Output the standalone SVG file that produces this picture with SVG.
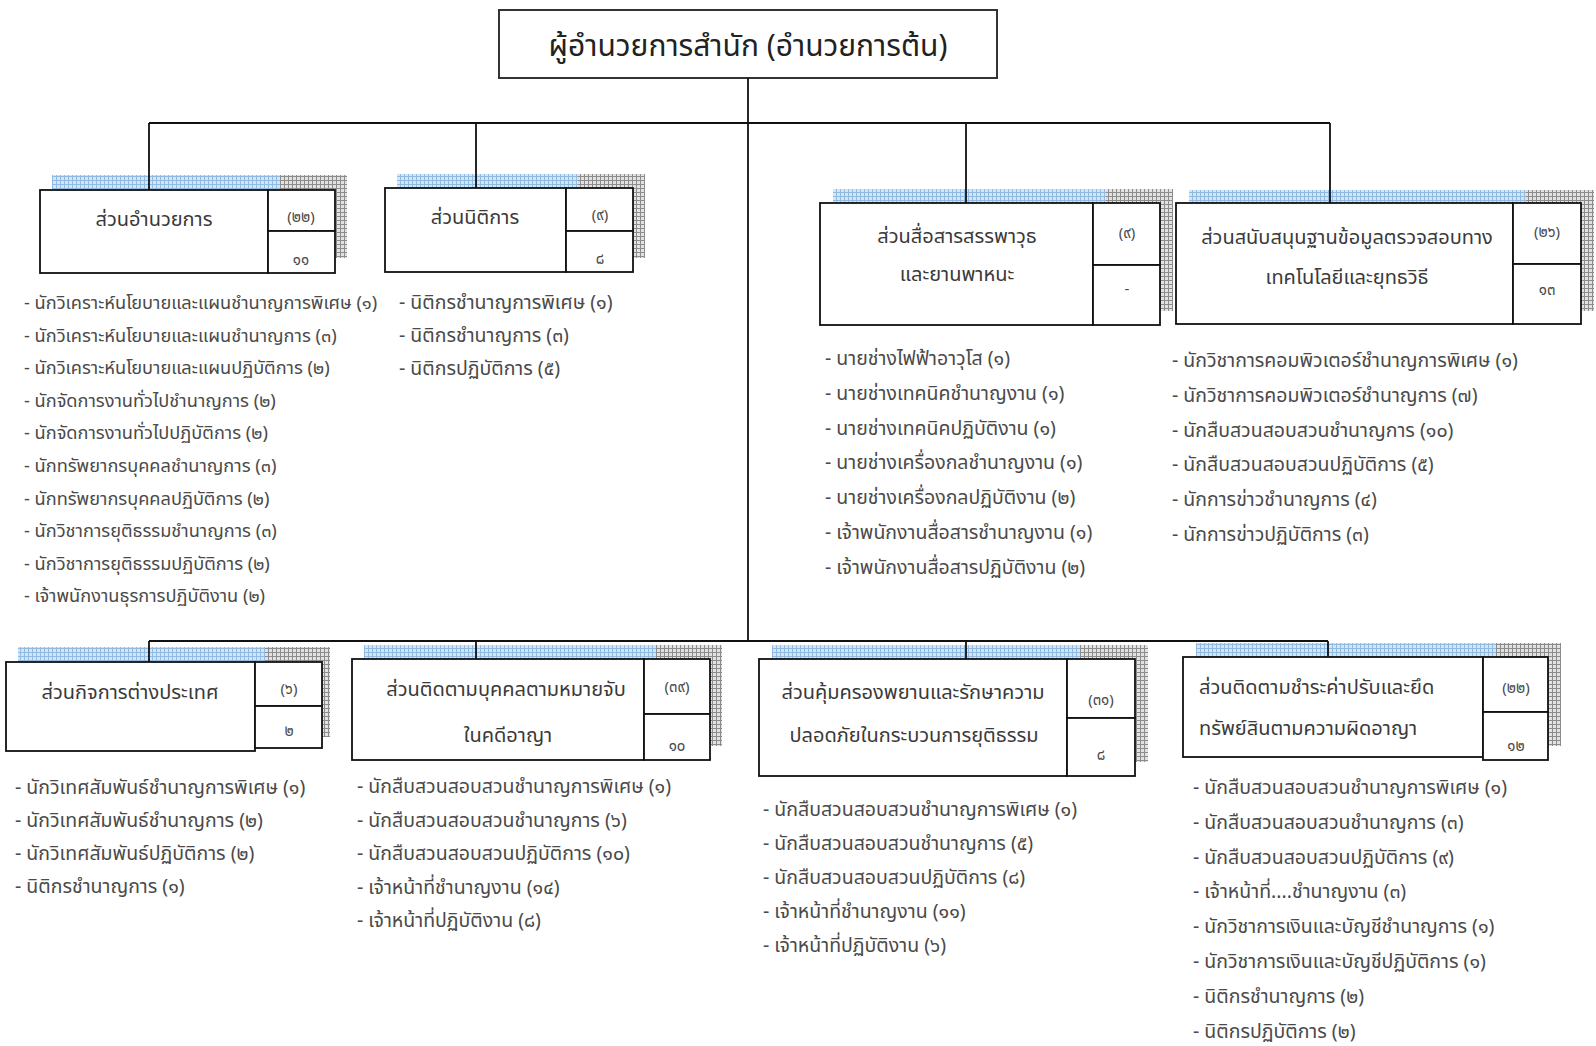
<svg xmlns="http://www.w3.org/2000/svg" width="1596" height="1046" viewBox="0 0 1596 1046">
<style>
.bx{fill:#fff;stroke:#111;stroke-width:1.8}
.top{fill:#fff;stroke:#333;stroke-width:2}
.sb{fill:url(#pb)}
.sg{fill:url(#pg)}
.t{font-family:"Noto Sans Thai","Noto Sans","DejaVu Sans",sans-serif;font-size:20px;fill:#3a3a3a;text-anchor:middle}
.n{font-family:"Noto Sans Thai","Noto Sans","DejaVu Sans",sans-serif;font-size:15px;fill:#4a4a4a;text-anchor:middle}
.l{font-family:"Noto Sans Thai","Noto Sans","DejaVu Sans",sans-serif;font-size:19.5px;fill:#4a4a4a}
.l1{font-size:18.2px}
.h{font-family:"Noto Sans Thai","Noto Sans","DejaVu Sans",sans-serif;font-size:30px;fill:#222;text-anchor:middle}
.c{fill:none;stroke:#111;stroke-width:1.8}
</style>
<defs>
<pattern id="pb" width="4" height="4" patternUnits="userSpaceOnUse"><rect width="4" height="4" fill="#d3e6f8"/><path d="M0 0.5H4M0.5 0V4" stroke="#92bbe3" stroke-width="1"/></pattern>
<pattern id="pg" width="4" height="4" patternUnits="userSpaceOnUse"><rect width="4" height="4" fill="#e2e2e2"/><path d="M0 0.5H4M0.5 0V4" stroke="#8c8c8c" stroke-width="1"/></pattern>
</defs>
<rect width="1596" height="1046" fill="#fff"/>

<g id="director">
<rect class="top" x="499" y="10" width="498" height="68"/>
<text class="h" x="748" y="56">ผู้อำนวยการสำนัก (อำนวยการต้น)</text>
</g>

<g id="box1">
<rect class="sb" x="52" y="175" width="228" height="83"/>
<rect class="sg" x="280" y="175" width="67" height="83"/>
<rect class="bx" x="40" y="190" width="228" height="83"/>
<rect class="bx" x="268" y="190" width="67" height="41"/>
<rect class="bx" x="268" y="231" width="67" height="42"/>
<text class="t" x="154" y="226">ส่วนอำนวยการ</text>
<text class="n" x="301" y="222">(๒๒)</text>
<text class="n" x="301" y="265">๑๑</text>
<text class="l l1" x="24" y="309"><tspan x="24">- นักวิเคราะห์นโยบายและแผนชำนาญการพิเศษ (๑)</tspan><tspan x="24" dy="32.6">- นักวิเคราะห์นโยบายและแผนชำนาญการ (๓)</tspan><tspan x="24" dy="32.6">- นักวิเคราะห์นโยบายและแผนปฏิบัติการ (๒)</tspan><tspan x="24" dy="32.6">- นักจัดการงานทั่วไปชำนาญการ (๒)</tspan><tspan x="24" dy="32.6">- นักจัดการงานทั่วไปปฏิบัติการ (๒)</tspan><tspan x="24" dy="32.6">- นักทรัพยากรบุคคลชำนาญการ (๓)</tspan><tspan x="24" dy="32.6">- นักทรัพยากรบุคคลปฏิบัติการ (๒)</tspan><tspan x="24" dy="32.6">- นักวิชาการยุติธรรมชำนาญการ (๓)</tspan><tspan x="24" dy="32.6">- นักวิชาการยุติธรรมปฏิบัติการ (๒)</tspan><tspan x="24" dy="32.6">- เจ้าพนักงานธุรการปฏิบัติงาน (๒)</tspan></text>
</g>

<g id="box2">
<rect class="sb" x="397" y="174" width="181" height="84"/>
<rect class="sg" x="578" y="174" width="67" height="84"/>
<rect class="bx" x="385" y="188" width="181" height="84"/>
<rect class="bx" x="566" y="188" width="67" height="43"/>
<rect class="bx" x="566" y="231" width="67" height="41"/>
<text class="t" x="475" y="224">ส่วนนิติการ</text>
<text class="n" x="600" y="220">(๙)</text>
<text class="n" x="600" y="264">๘</text>
<text class="l" x="399" y="309"><tspan x="399">- นิติกรชำนาญการพิเศษ (๑)</tspan><tspan x="399" dy="33">- นิติกรชำนาญการ (๓)</tspan><tspan x="399" dy="33">- นิติกรปฏิบัติการ (๕)</tspan></text>
</g>

<g id="box3">
<rect class="sb" x="833" y="189" width="273" height="122"/>
<rect class="sg" x="1106" y="189" width="67" height="122"/>
<rect class="bx" x="820" y="203" width="273" height="122"/>
<rect class="bx" x="1093" y="203" width="67" height="62"/>
<rect class="bx" x="1093" y="265" width="67" height="60"/>
<text class="t" x="957" y="243">ส่วนสื่อสารสรรพาวุธ</text>
<text class="t" x="957" y="281">และยานพาหนะ</text>
<text class="n" x="1127" y="238">(๙)</text>
<text class="n" x="1127" y="294">-</text>
<text class="l" x="825" y="365"><tspan x="825">- นายช่างไฟฟ้าอาวุโส  (๑)</tspan><tspan x="825" dy="34.8">- นายช่างเทคนิคชำนาญงาน (๑)</tspan><tspan x="825" dy="34.8">- นายช่างเทคนิคปฏิบัติงาน (๑)</tspan><tspan x="825" dy="34.8">- นายช่างเครื่องกลชำนาญงาน (๑)</tspan><tspan x="825" dy="34.8">- นายช่างเครื่องกลปฏิบัติงาน (๒)</tspan><tspan x="825" dy="34.8">- เจ้าพนักงานสื่อสารชำนาญงาน (๑)</tspan><tspan x="825" dy="34.8">- เจ้าพนักงานสื่อสารปฏิบัติงาน (๒)</tspan></text>
</g>

<g id="box4">
<rect class="sb" x="1189" y="190" width="337" height="121"/>
<rect class="sg" x="1526" y="190" width="68" height="121"/>
<rect class="bx" x="1176" y="203" width="337" height="121"/>
<rect class="bx" x="1513" y="203" width="68" height="61"/>
<rect class="bx" x="1513" y="264" width="68" height="60"/>
<text class="t" x="1347" y="244">ส่วนสนับสนุนฐานข้อมูลตรวจสอบทาง</text>
<text class="t" x="1347" y="284">เทคโนโลยีและยุทธวิธี</text>
<text class="n" x="1547" y="237">(๒๖)</text>
<text class="n" x="1547" y="295">๑๓</text>
<text class="l" x="1172" y="367"><tspan x="1172">- นักวิชาการคอมพิวเตอร์ชำนาญการพิเศษ  (๑)</tspan><tspan x="1172" dy="34.8">- นักวิชาการคอมพิวเตอร์ชำนาญการ (๗)</tspan><tspan x="1172" dy="34.8">- นักสืบสวนสอบสวนชำนาญการ (๑๐)</tspan><tspan x="1172" dy="34.8">- นักสืบสวนสอบสวนปฏิบัติการ (๕)</tspan><tspan x="1172" dy="34.8">- นักการข่าวชำนาญการ (๔)</tspan><tspan x="1172" dy="34.8">- นักการข่าวปฏิบัติการ (๓)</tspan></text>
</g>

<g id="box5">
<rect class="sb" x="18" y="647" width="247" height="90"/>
<rect class="sg" x="265" y="647" width="65" height="90"/>
<rect class="bx" x="6" y="662" width="249" height="89"/>
<rect class="bx" x="255" y="662" width="67" height="44"/>
<rect class="bx" x="255" y="706" width="67" height="42"/>
<text class="t" x="130" y="699">ส่วนกิจการต่างประเทศ</text>
<text class="n" x="289" y="694">(๖)</text>
<text class="n" x="289" y="736">๒</text>
<text class="l" x="15" y="794"><tspan x="15">- นักวิเทศสัมพันธ์ชำนาญการพิเศษ  (๑)</tspan><tspan x="15" dy="33">- นักวิเทศสัมพันธ์ชำนาญการ (๒)</tspan><tspan x="15" dy="33">- นักวิเทศสัมพันธ์ปฏิบัติการ (๒)</tspan><tspan x="15" dy="33">- นิติกรชำนาญการ (๑)</tspan></text>
</g>

<g id="box6">
<rect class="sb" x="364" y="645" width="292" height="101"/>
<rect class="sg" x="656" y="645" width="66" height="101"/>
<rect class="bx" x="352" y="659" width="292" height="101"/>
<rect class="bx" x="644" y="659" width="66" height="55"/>
<rect class="bx" x="644" y="714" width="66" height="46"/>
<text class="t" x="506" y="696">ส่วนติดตามบุคคลตามหมายจับ</text>
<text class="t" x="508" y="742">ในคดีอาญา</text>
<text class="n" x="677" y="692">(๓๙)</text>
<text class="n" x="677" y="751">๑๐</text>
<text class="l" x="357" y="793"><tspan x="357">- นักสืบสวนสอบสวนชำนาญการพิเศษ  (๑)</tspan><tspan x="357" dy="33.5">- นักสืบสวนสอบสวนชำนาญการ (๖)</tspan><tspan x="357" dy="33.5">- นักสืบสวนสอบสวนปฏิบัติการ (๑๐)</tspan><tspan x="357" dy="33.5">- เจ้าหน้าที่ชำนาญงาน (๑๔)</tspan><tspan x="357" dy="33.5">- เจ้าหน้าที่ปฏิบัติงาน (๘)</tspan></text>
</g>

<g id="box7">
<rect class="sb" x="772" y="645" width="308" height="117"/>
<rect class="sg" x="1080" y="645" width="68" height="117"/>
<rect class="bx" x="759" y="659" width="308" height="117"/>
<rect class="bx" x="1067" y="659" width="68" height="59"/>
<rect class="bx" x="1067" y="718" width="68" height="58"/>
<text class="t" x="913" y="699">ส่วนคุ้มครองพยานและรักษาความ</text>
<text class="t" x="914" y="742">ปลอดภัยในกระบวนการยุติธรรม</text>
<text class="n" x="1101" y="705">(๓๑)</text>
<text class="n" x="1101" y="760">๘</text>
<text class="l" x="763" y="816"><tspan x="763">- นักสืบสวนสอบสวนชำนาญการพิเศษ  (๑)</tspan><tspan x="763" dy="34">- นักสืบสวนสอบสวนชำนาญการ (๕)</tspan><tspan x="763" dy="34">- นักสืบสวนสอบสวนปฏิบัติการ (๘)</tspan><tspan x="763" dy="34">- เจ้าหน้าที่ชำนาญงาน (๑๑)</tspan><tspan x="763" dy="34">- เจ้าหน้าที่ปฏิบัติงาน (๖)</tspan></text>
</g>

<g id="box8">
<rect class="sb" x="1196" y="643" width="300" height="103"/>
<rect class="sg" x="1496" y="643" width="65" height="103"/>
<rect class="bx" x="1183" y="657" width="300" height="100"/>
<rect class="bx" x="1483" y="657" width="65" height="55"/>
<rect class="bx" x="1483" y="712" width="65" height="48"/>
<text class="t" x="1199" y="694" style="text-anchor:start">ส่วนติดตามชำระค่าปรับและยึด</text>
<text class="t" x="1199" y="735" style="text-anchor:start">ทรัพย์สินตามความผิดอาญา</text>
<text class="n" x="1516" y="693">(๒๒)</text>
<text class="n" x="1516" y="751">๑๒</text>
<text class="l" x="1193" y="794"><tspan x="1193">- นักสืบสวนสอบสวนชำนาญการพิเศษ  (๑)</tspan><tspan x="1193" dy="34.8">- นักสืบสวนสอบสวนชำนาญการ (๓)</tspan><tspan x="1193" dy="34.8">- นักสืบสวนสอบสวนปฏิบัติการ (๙)</tspan><tspan x="1193" dy="34.8">- เจ้าหน้าที่....ชำนาญงาน (๓)</tspan><tspan x="1193" dy="34.8">- นักวิชาการเงินและบัญชีชำนาญการ (๑)</tspan><tspan x="1193" dy="34.8">- นักวิชาการเงินและบัญชีปฏิบัติการ (๑)</tspan><tspan x="1193" dy="34.8">- นิติกรชำนาญการ (๒)</tspan><tspan x="1193" dy="34.8">- นิติกรปฏิบัติการ (๒)</tspan></text>
</g>

<g id="connectors">
<path class="c" d="M748 78V641"/>
<path class="c" d="M149 123H1330"/>
<path class="c" d="M149 123V190M476 123V188M966 123V203M1330 123V203"/>
<path class="c" d="M149 641H1328"/>
<path class="c" d="M149 641V662M476 641V659M966 641V659M1328 641V657"/>
</g>
</svg>
